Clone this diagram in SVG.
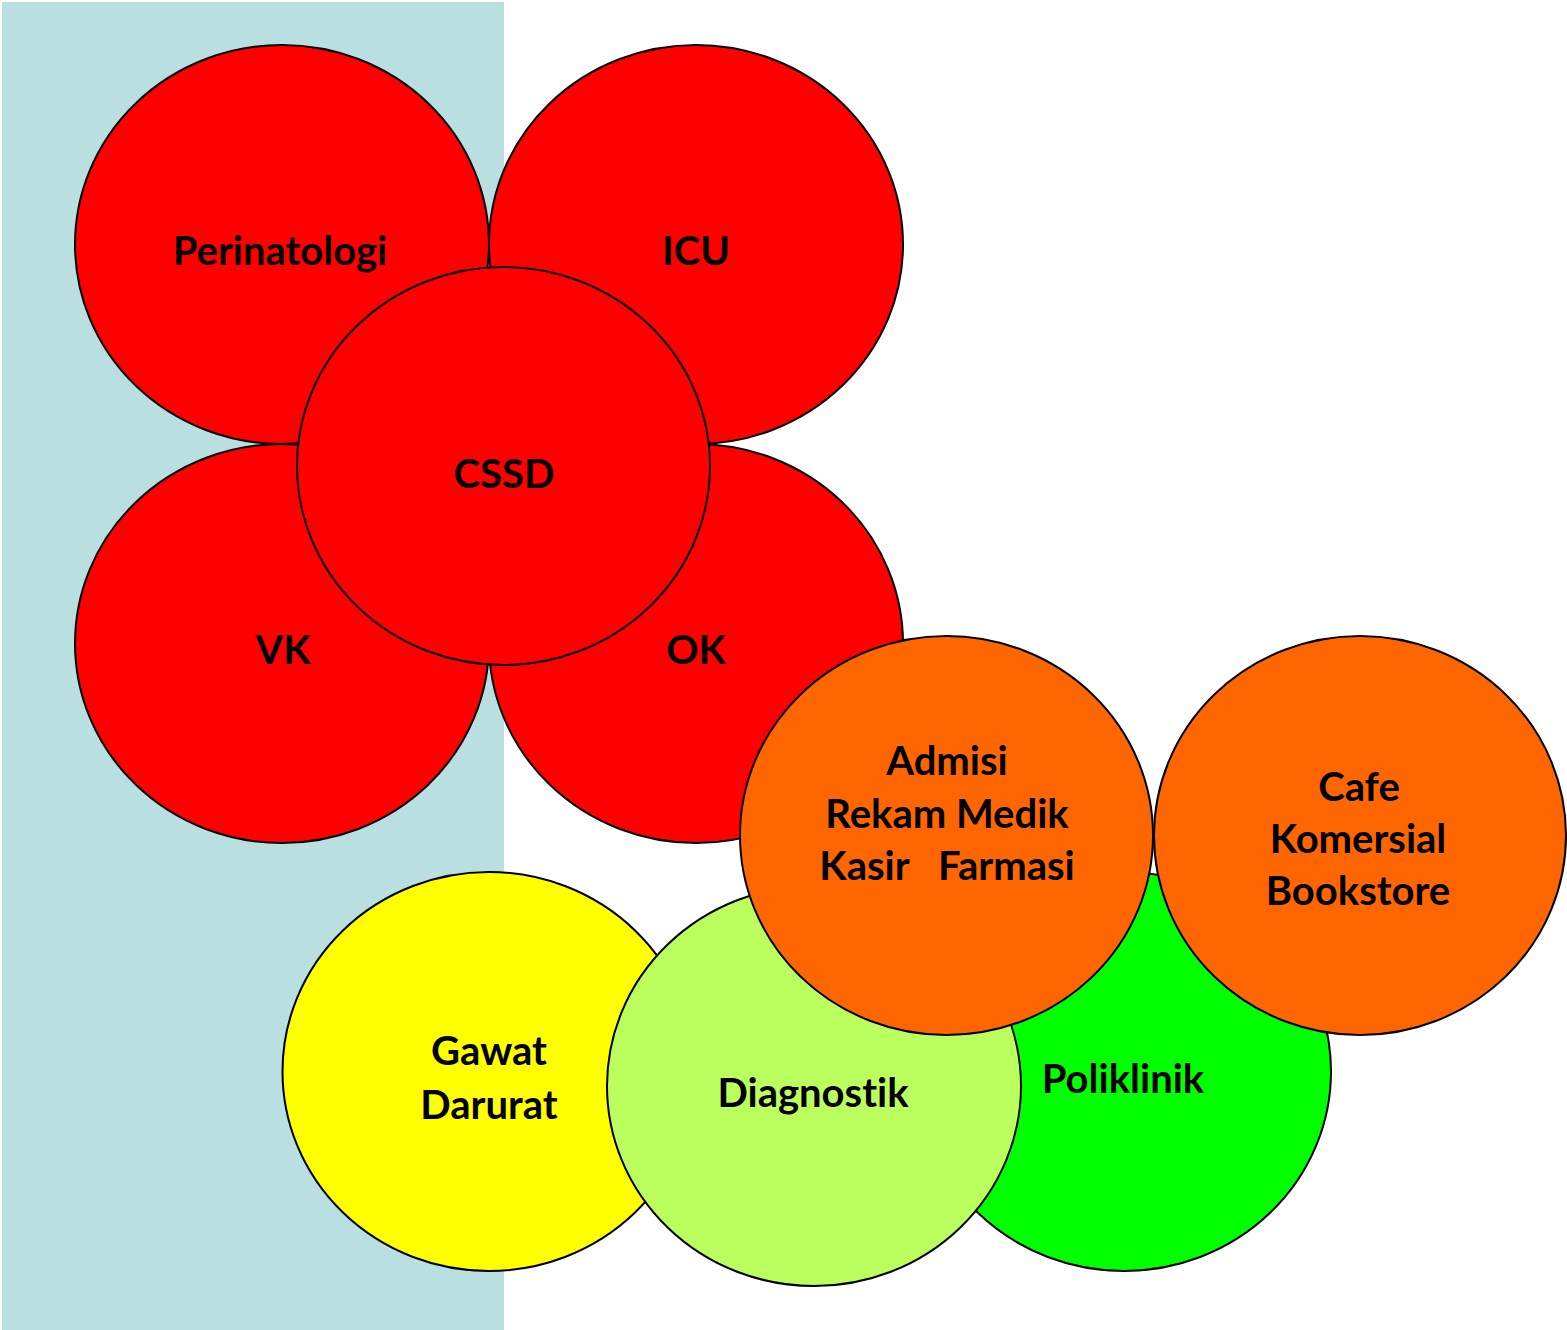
<svg xmlns="http://www.w3.org/2000/svg" width="1567" height="1330" viewBox="0 0 1567 1330">
<style>
.n{stroke:#000;stroke-width:2}
.red{fill:#FF0000}.orange{fill:#FF6600}.yellow{fill:#FFFF00}.lime{fill:#BBFF5E}.green{fill:#00FF00}
text{font-family:Lato,"Open Sans","Liberation Sans",sans-serif;font-weight:bold;font-size:40px;fill:#000;text-anchor:middle;white-space:pre;font-variant-ligatures:none}
</style>
<rect x="2" y="2" width="502" height="1328" fill="#B9DFE1"/>
<g id="perinatologi"><ellipse class="n red" cx="282" cy="244.5" rx="207" ry="199.5"/><text x="280" y="265">Perinatologi</text></g>
<g id="icu"><ellipse class="n red" cx="696" cy="244.5" rx="207" ry="199.5"/><text x="696" y="265">ICU</text></g>
<g id="vk"><ellipse class="n red" cx="282" cy="643.5" rx="207" ry="199.5"/><text x="283" y="664">VK</text></g>
<g id="ok"><ellipse class="n red" cx="696" cy="643.5" rx="207" ry="199.5"/><text x="696" y="664">OK</text></g>
<g id="cssd"><ellipse class="n red" cx="503.5" cy="466" rx="206.5" ry="199"/><text x="504" y="488">CSSD</text></g>
<g id="gawat-darurat"><ellipse class="n yellow" cx="489" cy="1071.5" rx="206.5" ry="199.5"/><text x="489" y="1065">Gawat</text><text x="489" y="1119">Darurat</text></g>
<g id="poliklinik"><ellipse class="n green" cx="1124" cy="1071.5" rx="207" ry="199.5"/><text x="1123" y="1093">Poliklinik</text></g>
<g id="diagnostik"><ellipse class="n lime" cx="814" cy="1086" rx="207" ry="200"/><text x="813" y="1107">Diagnostik</text></g>
<g id="admisi"><ellipse class="n orange" cx="946.5" cy="835.5" rx="206.5" ry="199.5"/><text x="947" y="775">Admisi</text><text x="947" y="828">Rekam Medik</text><text x="947" y="880">Kasir   Farmasi</text></g>
<g id="cafe"><ellipse class="n orange" cx="1360" cy="835.5" rx="206" ry="199.5"/><text x="1359" y="801">Cafe</text><text x="1358" y="853">Komersial</text><text x="1358" y="905">Bookstore</text></g>
<g id="connectors"></g>
</svg>
